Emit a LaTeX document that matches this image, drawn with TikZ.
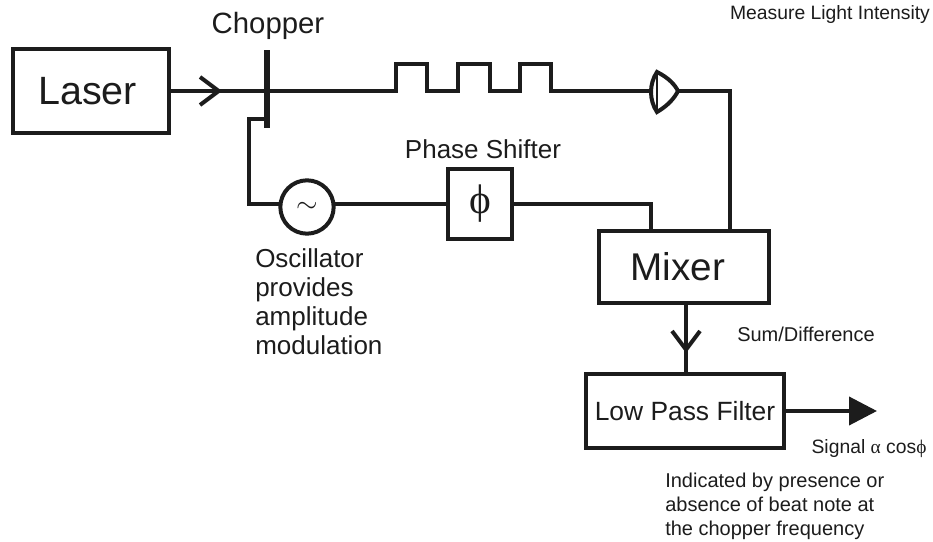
\documentclass[tikz,border=0pt]{standalone}
\usepackage{fontspec}
\setmainfont{Liberation Sans}
\newfontfamily\greekfont{Liberation Serif}
\usetikzlibrary{arrows.meta,positioning}
\definecolor{InkBlack}{HTML}{1C1C1C}
\newcommand{\fsize}[1]{\fontsize{#1}{1.2\dimexpr#1\relax}\selectfont}
\begin{document}
\begin{tikzpicture}[
    x=0.75pt, y=-0.75pt,
    box/.style={rectangle,draw=InkBlack,line width=3pt,inner sep=0pt,text=InkBlack},
    wire/.style={draw=InkBlack,line width=3pt,line join=miter},
    lbl/.style={font=\fsize{15pt},text=InkBlack,inner sep=0pt,align=left},
    barb/.style={-{Straight Barb[length=14pt,width=21pt,line width=3pt]}},
    solid tip/.style={-{Triangle[length=21pt,width=21pt]}},
  ]
  \useasboundingbox (0,0) rectangle (933,542);
  % Boxes
  \node[box,minimum width=117pt,minimum height=63pt,font=\fsize{29.6pt}] (laser) at (91,91) {Laser\kern5pt};
  \node[box,minimum width=48pt,minimum height=52pt,font=\fsize{31pt}] (phase) at (480,204) {\greekfont ϕ};
  \node[box,minimum width=128pt,minimum height=54pt,font=\fsize{29pt}] (mixer) at (684,267) {Mixer\kern9pt};
  \node[box,minimum width=149pt,minimum height=56pt,font=\fsize{19.8pt}] (filter) at (685,411) {Low Pass Filter};
  \node[circle,draw=InkBlack,line width=3pt,inner sep=0pt,minimum size=40pt,text=InkBlack,font=\fsize{20pt}] (osc) at (307,207) {$\sim$};
  \node[rectangle,fill=InkBlack,minimum width=4.5pt,minimum height=58pt,inner sep=0pt] (chopper) at (267,89) {};
  % Labels
  \node[font=\fsize{22pt},text=InkBlack,inner sep=0pt] (chopperlbl) at (268,26) {Chopper};
  \node[lbl,font=\fsize{19.5pt}] (phaselbl) at (483,149) {Phase Shifter};
  \node[lbl,font=\fontsize{19.5pt}{21.75pt}\selectfont,anchor=north west] (osclbl) at (255,248) {Oscillator\\provides\\amplitude\\modulation};
  \node[lbl,font=\fsize{14.5pt}] (measurelbl) at (830,15) {Measure Light Intensity};
  \node[lbl] (sumlbl) at (806,334) {Sum/Difference};
  \node[lbl,font=\fsize{14.5pt}] (signallbl) at (869,449) {Signal {\greekfont α} cos{\greekfont ϕ}};
  \node[lbl,anchor=north west] (notelbl) at (665,473) {Indicated by presence or\\absence of beat note at\\the chopper frequency};
  % Beam and pulses
  \coordinate (beam) at (267,91);
  \coordinate (beamtip) at (222,91);
  \coordinate (pulse) at (396,91);
  \coordinate (detin) at (652,91);
  \coordinate (detout) at (678,91);
  \draw[wire] (laser) -- (beam);
  \draw[wire,barb] (laser) -- (beamtip);
  \draw[wire] (beam) -- (pulse) -- ++(0,-27) -- ++(31,0) -- ++(0,27)
    -- ++(31,0) -- ++(0,-27) -- ++(32,0) -- ++(0,27)
    -- ++(30,0) -- ++(0,-27) -- ++(31,0) -- ++(0,27) -- (detin);
  % Detector
  \draw[wire] (657,72) .. controls (669,78) and (675,85) .. (detout)
    .. controls (675,97) and (669,105) .. (657,112)
    .. controls (649,100) and (649,84) .. (657,72) -- cycle;
  \draw[wire,line width=2pt] (657,72) -- (657,112);
  % Oscillator loop
  \coordinate (chopfeed) at (267,119);
  \coordinate (oscin) at (281,204);
  \coordinate (oscout) at (333,204);
  \draw[wire] (oscout) -- (phase.west |- oscout);
  \draw[wire] (chopfeed) -| (249,204) -- (oscin);
  % To mixer
  \coordinate (mixa) at (651,230);
  \coordinate (mixb) at (730,230);
  \draw[wire] (phase.east) -| (mixa);
  \draw[wire] (detout) -| (mixb);
  % Outputs
  \coordinate (midtip) at (686,353);
  \draw[wire] (mixer.south -| midtip) -- (filter.north -| midtip);
  \draw[wire,barb] (mixer.south -| midtip) -- (midtip);
  \coordinate (signaltip) at (877,411);
  \draw[wire,solid tip] (filter.east) -- (signaltip);
\end{tikzpicture}
\end{document}
